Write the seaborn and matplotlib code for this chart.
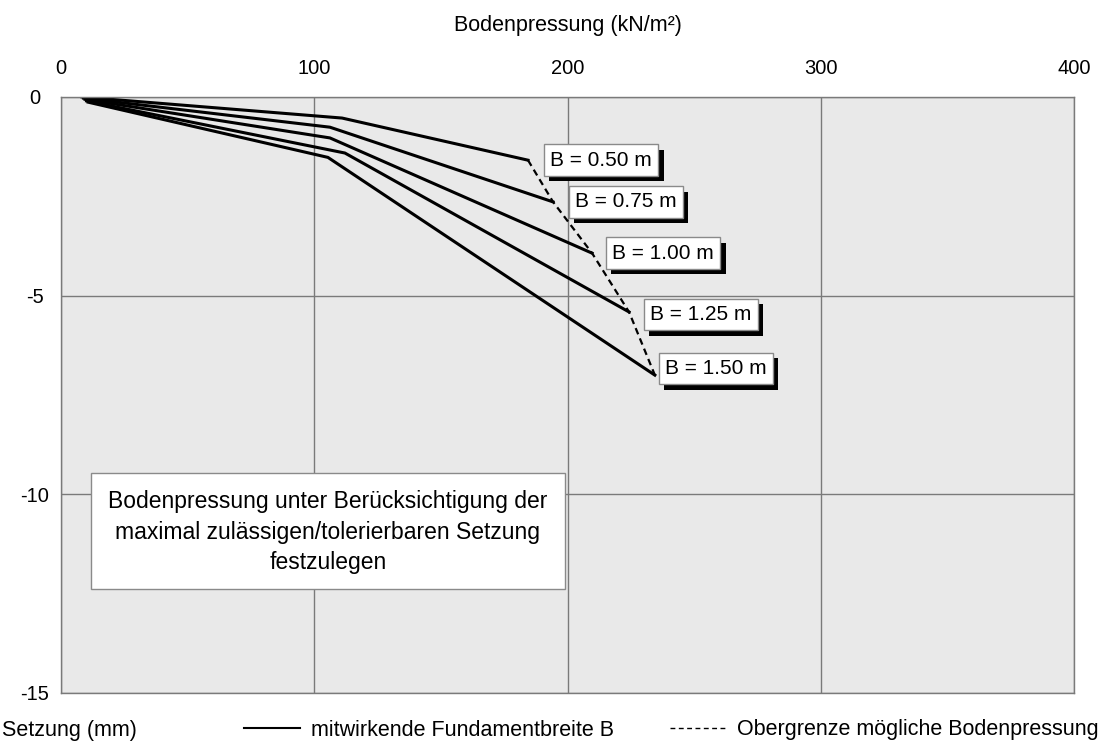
import matplotlib
matplotlib.use("Agg")
import matplotlib.pyplot as plt
import matplotlib.patheffects as pe
from matplotlib.lines import Line2D
from matplotlib.patches import Rectangle
import seaborn as sns
import pandas as pd

# ---- data ----
widths = ["B = 0.50 m", "B = 0.75 m", "B = 1.00 m", "B = 1.25 m", "B = 1.50 m"]
pressure_050 = [8.3, 111.0, 184.4]
settle_050 = [-0.00, -0.53, -1.59]
pressure_075 = [8.9, 106.2, 194.3]
settle_075 = [-0.03, -0.76, -2.64]
pressure_100 = [9.5, 106.2, 209.7]
settle_100 = [-0.06, -1.03, -3.93]
pressure_125 = [10.1, 112.1, 224.3]
settle_125 = [-0.10, -1.41, -5.41]
pressure_150 = [10.7, 105.4, 234.5]
settle_150 = [-0.13, -1.52, -7.00]

limit_pressure = [184.4, 194.3, 209.7, 224.3, 234.5]
limit_settle = [-1.59, -2.64, -3.93, -5.41, -7.00]

x_ticks = [0, 100, 200, 300, 400]
y_ticks = [0, -5, -10, -15]

series_p = [pressure_050, pressure_075, pressure_100, pressure_125, pressure_150]
series_s = [settle_050, settle_075, settle_100, settle_125, settle_150]

rows = []
for name, ps, ss in zip(widths, series_p, series_s):
    for i, (p, s) in enumerate(zip(ps, ss)):
        rows.append({"B": name, "p": p, "s": s, "i": i})
df = pd.DataFrame(rows)
df_lim = pd.DataFrame({"p": limit_pressure, "s": limit_settle})

plt.rcParams["font.family"] = ["Liberation Sans", "DejaVu Sans"]
plt.rcParams["axes.unicode_minus"] = False

W, H = 1106, 744
fig = plt.figure(figsize=(W / 100, H / 100), dpi=100)
ax = fig.add_axes([61 / W, 1 - 693 / H, (1074 - 61) / W, (693 - 97) / H])
ax.set_facecolor("#e9e9e9")

sns.lineplot(data=df, x="p", y="s", hue="B", units="B", estimator=None, sort=False,
             palette=["black"] * 5, linewidth=2.2, legend=False, ax=ax)
sns.lineplot(data=df_lim, x="p", y="s", estimator=None, sort=False, color="black",
             linewidth=1.6, linestyle=(0, (3.0, 2.0)), ax=ax)

ax.set_xlim(0, 400)
ax.set_ylim(-15, 0)
ax.set_xticks(x_ticks)
ax.set_yticks(y_ticks)
ax.xaxis.tick_top()
ax.tick_params(axis="both", length=0, labelsize=14.5)
ax.tick_params(axis="x", pad=14)
ax.tick_params(axis="y", pad=19)
for lab in ax.get_yticklabels():
    lab.set_horizontalalignment("center")
ax.set_xlabel("")
ax.set_ylabel("")
ax.grid(True, color="#7a7a7a", linewidth=1.0)
ax.set_axisbelow(True)
for sp in ax.spines.values():
    sp.set_color("#7a7a7a")
    sp.set_linewidth(1.0)

# labels at the line ends
offsets = [(22, 0), (22, 0), (20, 0), (21, -2.5), (10, 6.5)]
for name, ps, ss, off in zip(widths, series_p, series_s, offsets):
    t = ax.annotate(name, xy=(ps[-1], ss[-1]), xytext=off, textcoords="offset pixels",
                    ha="left", va="center", fontsize=15, zorder=5,
                    bbox=dict(boxstyle="square,pad=0.3", fc="white", ec="#8a8a8a", lw=1.0))
    t.get_bbox_patch().set_path_effects(
        [pe.SimplePatchShadow(offset=(4, -4), shadow_rgbFace="black", alpha=1.0), pe.Normal()])

# note box
ax.add_patch(Rectangle((11.85, -12.38), 199.0 - 11.85, 12.38 - 9.46, fc="white",
                       ec="#8a8a8a", lw=1.0, zorder=4))
ax.text(105.4, -10.95,
        "Bodenpressung unter Berücksichtigung der\nmaximal zulässigen/tolerierbaren Setzung\nfestzulegen",
        ha="center", va="center", fontsize=16.5, linespacing=1.4, zorder=5)

fig.text(568 / W, 1 - 31 / H, "Bodenpressung (kN/m²)", ha="center", va="baseline",
         fontsize=15.5)
fig.text(2 / W, 1 - 736 / H, "Setzung (mm)", ha="left", va="baseline", fontsize=15.5)

# legend items at bottom
solid = Line2D([], [], color="black", linewidth=1.5)
dashed = Line2D([], [], color="black", linewidth=1.0, linestyle=(0, (3.5, 2.5)))
fig.legend([solid], ["mitwirkende Fundamentbreite B"], loc="center left",
           bbox_to_anchor=(244 / W, 1 - 730 / H), frameon=False, fontsize=15.5,
           handlelength=2.6, handletextpad=0.5, borderaxespad=0, borderpad=0)
fig.legend([dashed], ["Obergrenze mögliche Bodenpressung"], loc="center left",
           bbox_to_anchor=(670 / W, 1 - 730 / H), frameon=False, fontsize=15.5,
           handlelength=2.6, handletextpad=0.5, borderaxespad=0, borderpad=0)

fig.savefig("out.png", dpi=100, facecolor="white")
